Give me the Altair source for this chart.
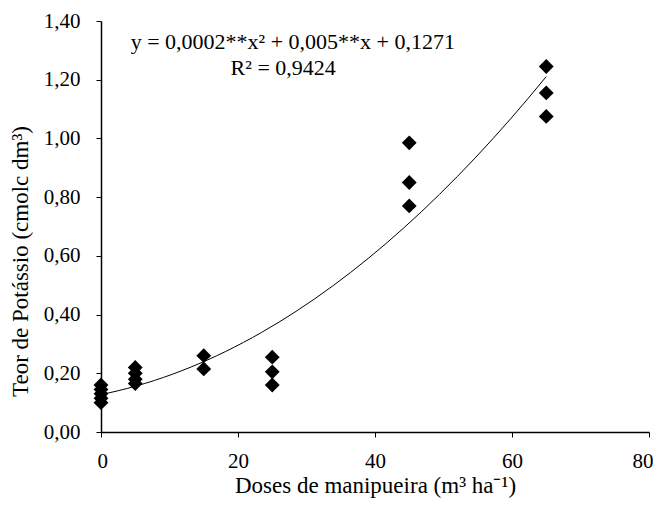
import altair as alt
import pandas as pd

doses = [0, 0, 0, 0, 0,
         5, 5, 5, 5,
         15, 15,
         25, 25, 25,
         45, 45, 45,
         65, 65, 65]
potassio = [0.16, 0.145, 0.13, 0.115, 0.10,
            0.22, 0.20, 0.18, 0.165,
            0.26, 0.215,
            0.255, 0.205, 0.16,
            0.985, 0.85, 0.77,
            1.245, 1.155, 1.075]

eq_text = ["y = 0,0002**x² + 0,005**x + 0,1271", "R² = 0,9424"]
eq_x = [28.0, 26.6]
eq_y = [1.33, 1.24]

df = pd.DataFrame({"x": doses, "y": potassio})
df_eq = pd.DataFrame({"t": eq_text, "x": eq_x, "y": eq_y})

FONT = "Liberation Serif"

xscale = alt.Scale(domain=[0, 80], nice=False, zero=True)
yscale = alt.Scale(domain=[0, 1.4], nice=False, zero=True)

xaxis = alt.Axis(values=[0, 20, 40, 60, 80], title="Doses de manipueira (m³ ha⁻¹)",
                 grid=False, tickSize=5, labelPadding=13, titlePadding=3,
                 labelFlush=True, labelFlushOffset=4,
                 labelExpr="replace(format(datum.value, 'd'), '.', ',')")
yaxis = alt.Axis(values=[0, 0.2, 0.4, 0.6, 0.8, 1.0, 1.2, 1.4],
                 title="Teor de Potássio (cmolc dm³)",
                 grid=False, tickSize=5, labelPadding=16, titlePadding=11,
                 titleY=240,
                 labelFlush=False,
                 labelExpr="replace(format(datum.value, '.2f'), '.', ',')")

points = alt.Chart(df).mark_point(shape="diamond", filled=True, color="black",
                                   size=220, opacity=1).encode(
    x=alt.X("x:Q", scale=xscale, axis=xaxis),
    y=alt.Y("y:Q", scale=yscale, axis=yaxis),
)

trend = alt.Chart(df).transform_regression(
    "x", "y", method="poly", order=2, extent=[0, 65]
).mark_line(color="black", strokeWidth=1).encode(
    x=alt.X("x:Q", scale=xscale),
    y=alt.Y("y:Q", scale=yscale),
)

eq = alt.Chart(df_eq).mark_text(font=FONT, fontSize=22, color="black",
                                align="center", baseline="middle").encode(
    x=alt.X("x:Q", scale=xscale),
    y=alt.Y("y:Q", scale=yscale),
    text="t:N",
)

chart = (trend + points + eq).properties(
    width=548, height=411,
    autosize=alt.AutoSizeParams(type="none"),
    padding={"left": 93, "top": 13, "right": 4, "bottom": 66},
).configure_view(stroke=None).configure_axis(
    domainColor="black", tickColor="black", labelColor="black", titleColor="black",
    labelFont=FONT, titleFont=FONT, labelFontSize=21, titleFontSize=23,
    titleFontWeight="normal", domainWidth=1.5, tickWidth=1,
)

chart.save("out.html", embed_options={"renderer": "svg", "actions": False})
